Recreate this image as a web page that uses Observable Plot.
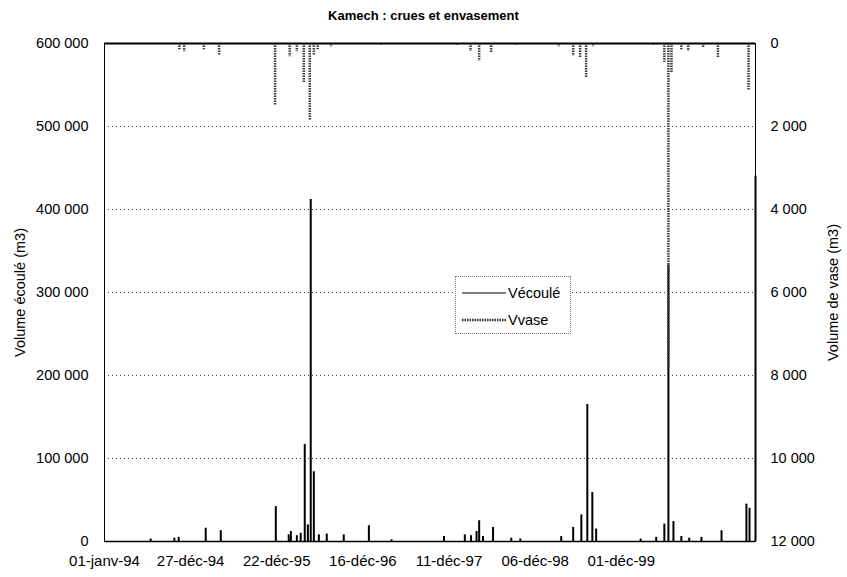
<!DOCTYPE html>
<html><head><meta charset="utf-8">
<script src="https://cdn.jsdelivr.net/npm/d3@7"></script>
<script src="https://cdn.jsdelivr.net/npm/@observablehq/plot@0.6"></script>
<style>
body{margin:0;background:#fff;font-family:"Liberation Sans",Arial,sans-serif;}
#wrap{position:relative;width:847px;height:577px;overflow:hidden;}
#title{position:absolute;top:8px;left:0;width:847px;text-align:center;font-weight:bold;font-size:13px;}
#chart{position:absolute;top:30px;left:0;}
#legend{position:absolute;left:455px;top:276px;width:114px;height:56px;border:1px dotted #777;background:#fff;font-size:14px;}
</style></head>
<body>
<div id="wrap">
  <div id="title">Kamech : crues et envasement</div>
  <div id="chart"></div>
  <div id="legend"></div>
</div>
<script>
// ---- data ----
const tickDates = ["1994-01-01","1994-12-27","1995-12-22","1996-12-16","1997-12-11","1998-12-06","1999-12-01"];
const tickLabels = ["01-janv-94","27-déc-94","22-déc-95","16-déc-96","11-déc-97","06-déc-98","01-déc-99"];
const leftTicks = [0,100000,200000,300000,400000,500000,600000];
const gridValues = [100000,200000,300000,400000,500000];
const domainDates = ["1994-01-01","2001-06-14"];

const ecouleDates = ["1994-07-13","1994-10-20","1994-11-07","1995-02-28","1995-05-02","1995-12-18","1996-02-10","1996-02-19","1996-03-15","1996-03-31","1996-04-17","1996-04-30","1996-05-12","1996-05-25","1996-06-15","1996-07-18","1996-09-27","1997-01-10","1997-04-15","1997-11-20","1998-02-15","1998-03-13","1998-04-05","1998-04-16","1998-05-02","1998-06-13","1998-08-28","1998-10-05","1999-03-25","1999-05-14","1999-06-17","1999-07-12","1999-08-02","1999-08-18","2000-02-20","2000-04-25","2000-05-29","2000-06-15","2000-07-06","2000-08-08","2000-09-10","2000-10-31","2001-01-23","2001-05-07","2001-05-20","2001-06-14"];
const ecouleValues = [3000,4000,5000,16000,13000,42000,8000,12000,7000,10000,117000,20000,412000,84000,8000,9000,8000,19000,2000,6000,8000,7000,12000,25000,6000,17000,4000,3000,6000,17000,32000,165000,59000,15000,3000,5000,21000,333000,24000,6000,4000,5000,13000,45000,40000,440000];

const vaseDates = ["1994-11-10","1994-11-30","1995-02-20","1995-04-25","1995-12-15","1996-02-14","1996-03-15","1996-04-13","1996-05-08","1996-05-25","1996-06-10","1996-08-05","1997-03-01","1998-01-15","1998-03-11","1998-04-16","1998-06-05","1998-09-15","1999-03-15","1999-05-14","1999-06-12","1999-07-07","1999-08-05","2000-04-14","2000-05-29","2000-06-15","2000-06-28","2000-08-08","2000-09-06","2000-11-07","2001-01-08","2001-05-16"];
const vaseValues = [150,200,150,300,1480,320,200,950,1870,300,150,80,60,50,190,430,240,50,80,310,360,840,80,50,450,7800,700,150,190,100,360,1130];

// ---- build ----
const P = d => new Date(d + "T00:00:00Z");
const ecoule = ecouleDates.map((d,i)=>({date:P(d), v:ecouleValues[i]}));
const vase = vaseDates.map((d,i)=>({date:P(d), v:vaseValues[i]}));
const labelMap = new Map(tickDates.map((d,i)=>[+P(d), tickLabels[i]]));
const loc = d3.formatLocale({decimal:",", thousands:"\u00a0", grouping:[3], currency:["",""]});
const fmt = loc.format(",d");
const VMAX = 600000, RMAX = 12000, K = VMAX / RMAX; // right axis reversed: 0 at top
const toLeft = v => VMAX - v * K;

const chart = Plot.plot({
  width: 847, height: 547,
  marginLeft: 104, marginRight: 92, marginTop: 13, marginBottom: 36,
  style: {fontFamily: "'Liberation Sans', Arial, sans-serif", fontSize: "14.5px", color: "#000", background: "#fff"},
  x: {type: "utc", domain: domainDates.map(P)},
  y: {domain: [0, VMAX]},
  marks: [
    Plot.ruleY(gridValues, {stroke: "#444", strokeWidth: 1, strokeDasharray: "1,3"}),
    Plot.ruleX(ecoule, {x: "date", y1: 0, y2: "v", stroke: "#000", strokeWidth: 2}),
    Plot.ruleX(vase, {x: "date", y1: VMAX, y2: d => toLeft(d.v), stroke: "#3a3a3a", strokeWidth: 2.5, strokeDasharray: "1.5,1"}),
    Plot.ruleY([0], {stroke: "#000", strokeWidth: 1.5}),
    Plot.ruleY([VMAX], {stroke: "#000", strokeWidth: 2}),
    Plot.frame({stroke: "#000", strokeWidth: 1}),
    Plot.axisX({ticks: tickDates.map(P), tickFormat: d => labelMap.get(+d), tickSize: 0, tickPadding: 14, label: null, fontSize: 15}),
    Plot.axisY({anchor: "left", ticks: leftTicks, tickFormat: fmt, tickSize: 0, tickPadding: 16,
      label: "Volume écoulé (m3)", labelAnchor: "center", labelArrow: "none", labelOffset: 90}),
    Plot.axisY({anchor: "right", ticks: leftTicks, tickFormat: d => fmt((VMAX - d) / K), tickSize: 0, tickPadding: 15,
      label: "Volume de vase (m3)", labelAnchor: "center", labelArrow: "none", labelOffset: 82})
  ]
});
document.getElementById("chart").appendChild(chart);

// legend
const lg = d3.select("#legend").append("svg").attr("width", 114).attr("height", 56);
lg.append("line").attr("x1", 6).attr("x2", 50).attr("y1", 16).attr("y2", 16).attr("stroke", "#000").attr("stroke-width", 1);
lg.append("text").attr("x", 52).attr("y", 21).text("Vécoulé").style("font-size", "14.5px");
lg.append("line").attr("x1", 6).attr("x2", 50).attr("y1", 43).attr("y2", 43).attr("stroke", "#333").attr("stroke-width", 2.5).attr("stroke-dasharray", "1.5,1");
lg.append("text").attr("x", 52).attr("y", 48).text("Vvase").style("font-size", "14.5px");
</script>
</body></html>
